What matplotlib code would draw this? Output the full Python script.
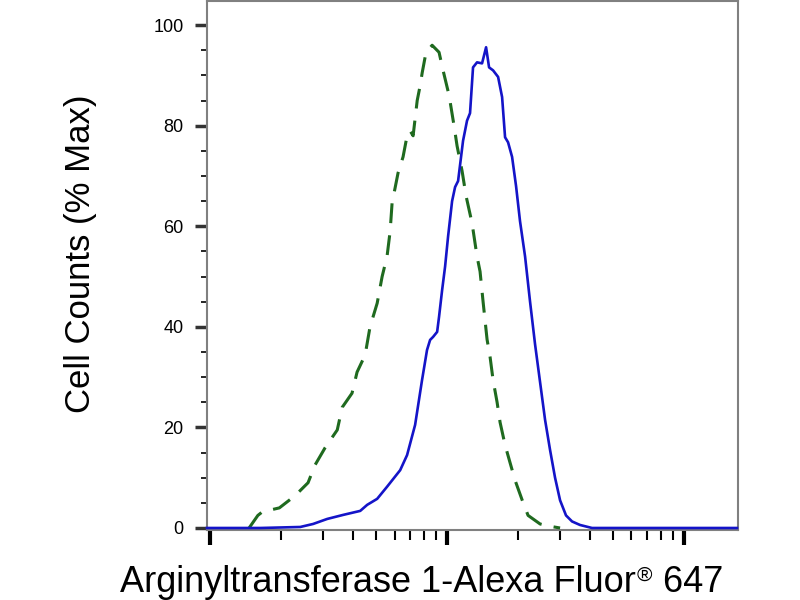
import matplotlib
matplotlib.use("Agg")
import matplotlib.pyplot as plt
from matplotlib.ticker import LogLocator, MultipleLocator, NullFormatter

plt.rcParams['font.family'] = ['Liberation Sans', 'DejaVu Sans']

# stained sample (solid blue) - intensity vs % max
stain_x = [97, 163, 240, 272, 312, 364, 430, 460, 507, 558, 634, 678, 733, 784,
           823, 848, 873, 908, 925, 953, 981, 1010, 1050, 1081, 1113, 1168, 1214,
           1250, 1287, 1338, 1405, 1461, 1504, 1564, 1642, 1707, 1757, 1809, 1881,
           1955, 2032, 2134, 2240, 2352, 2469, 2592, 2721, 2856, 2999, 3177, 3369,
           3640, 4091, 16737]
stain_y = [0, 0, 0.2, 0.8, 1.8, 2.6, 3.4, 4.6, 5.8, 8.2, 11.5, 14.5, 20.5, 29.4,
           35.4, 37.4, 38, 39, 42, 47.3, 52, 58, 65, 67.8, 69, 77, 81,
           82.5, 91.6, 92.6, 92.4, 95.6, 91.6, 91, 89.7, 85.7, 77.7, 76.7, 73.8,
           68, 61, 54, 45, 36.5, 29, 21.5, 15.5, 10, 5.5, 2.5, 1.3,
           0.6, 0, 0]

# isotype control (dashed green)
ctrl_x = [146, 159, 166, 196, 228, 259, 277, 306, 344, 361, 397, 417, 451, 473,
          507, 532, 558, 575, 586, 621, 652, 678, 698, 719, 748, 770, 785, 815,
          865, 925, 962, 1020, 1070, 1102, 1157, 1203, 1275, 1338, 1378, 1419,
          1475, 1519, 1564, 1626, 1674, 1757, 1844, 1936, 2073, 2197, 2469, 2669,
          2999]
ctrl_y = [0, 2.5, 3.2, 4, 6.4, 9, 12.5, 16, 19.5, 24, 26.8, 31, 34.4, 40,
          44.7, 50, 54, 59, 64.6, 70.6, 73.8, 78, 79, 78, 85, 88, 90.5, 94.6,
          96, 94.6, 91, 86, 80, 76, 71, 66, 60.6, 54, 51, 45,
          37.5, 34, 29.4, 25, 21, 16.5, 13, 9.5, 5.6, 2.5, 0.8, 0.4,
          0]

y_ticks = [0, 20, 40, 60, 80, 100]
xlabel_parts = ['Arginyltransferase 1-Alexa Fluor', '\u00ae', ' 647']

fig = plt.figure(figsize=(8, 6), dpi=100)
ax = fig.add_axes([207 / 800, 1 - 530 / 600, 531 / 800, 529 / 600])

ax.plot(ctrl_x, ctrl_y, color='#1f6a1f', lw=2.2, dashes=(6.5, 4), clip_on=False, zorder=3)
ax.plot(stain_x, stain_y, color='#1414c8', lw=1.9, clip_on=False, zorder=4)

ax.set_xscale('log')
ax.set_xlim(97, 16900)
ax.set_ylim(-0.4, 104.8)

ax.xaxis.set_major_locator(LogLocator(base=10))
ax.xaxis.set_minor_locator(LogLocator(base=10, subs=range(2, 10)))
ax.xaxis.set_major_formatter(NullFormatter())
ax.xaxis.set_minor_formatter(NullFormatter())
ax.set_yticks(y_ticks)
ax.yaxis.set_minor_locator(MultipleLocator(5))

ax.tick_params(axis='x', which='major', length=11, width=3, color='black', direction='out')
ax.tick_params(axis='x', which='minor', length=7, width=1.5, color='black', direction='out')
ax.tick_params(axis='y', which='major', length=9, width=2.5, color='#333333', direction='out',
               pad=8, labelsize=13)
ax.tick_params(axis='y', which='minor', length=4, width=1.2, color='black', direction='out')

for side in ['left', 'bottom', 'top', 'right']:
    ax.spines[side].set_color('#808080')
    ax.spines[side].set_linewidth(1.5)

fig.text(81 / 800, 1 - 254 / 600, 'Cell Counts (% Max)', rotation=90,
         ha='center', va='center', fontsize=25)

# x label in pieces so the (R) sign can be small and raised
renderer = fig.canvas.get_renderer()
base_y = 1 - 592 / 600
t1 = fig.text(120 / 800, base_y, xlabel_parts[0], fontsize=26, ha='left', va='baseline')
x_px = t1.get_window_extent(renderer).x1 + 1
t2 = fig.text(x_px / 800, base_y + 11 / 600, xlabel_parts[1], fontsize=15, ha='left', va='baseline')
x_px = t2.get_window_extent(renderer).x1 + 0.5
fig.text(x_px / 800, base_y, xlabel_parts[2], fontsize=26, ha='left', va='baseline')

fig.savefig('out.png', dpi=100)
